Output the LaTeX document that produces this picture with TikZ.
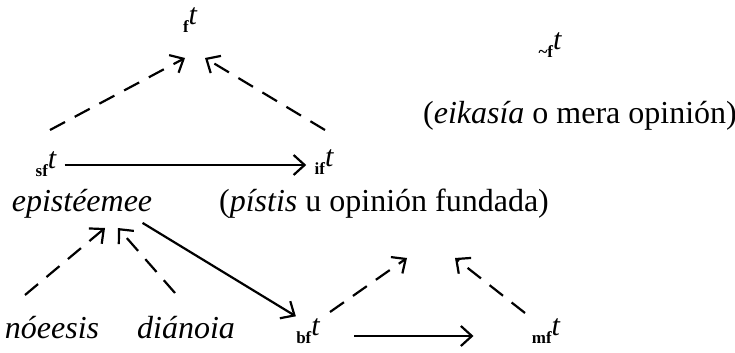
\documentclass[tikz,border=0pt]{standalone}
\usepackage{fontspec}
\setmainfont{Liberation Serif}
\usetikzlibrary{arrows.meta, positioning, calc}
\newcommand{\tlbl}[1]{{\fontsize{8.5}{9}\selectfont\bfseries #1}\raisebox{0.55ex}{\itshape t}}

\begin{document}
\begin{tikzpicture}[
        x=0.5pt, y=-0.5pt,
        txt/.style={inner sep=1pt, font=\fontsize{16}{18}\selectfont},
        sym/.style={inner sep=0pt, font=\fontsize{15}{17}\selectfont},
        line/.style={line width=1.1pt, -{Straight Barb[length=5.5pt, width=10pt, line width=1.1pt]}},
        dline/.style={line, dash pattern=on 8.5pt off 5.5pt}
    ]
    \useasboundingbox (0,0) rectangle (735,353);
    % upper triangle
    \node [sym] (f)   at (190,20)  {\tlbl{f}};
    \node [sym] (sf)  at (46,164)  {\tlbl{sf}};
    \node [sym] (if)  at (324,162) {\tlbl{if}};
    \node [txt] (epi) at (82,204)  {\itshape epistéemee};
    \node [txt] (pis) at (384,204) {(\textit{pístis} u opinión fundada)};
    % right side
    \node [sym] (tf)  at (550,45)  {\tlbl{\textasciitilde f}};
    \node [txt] (eik) at (580,116) {(\textit{eikasía} o mera opinión)};
    % lower part
    \node [txt] (noe) at (52,328)  {\itshape nóeesis};
    \node [txt] (dia) at (186,328) {\itshape diánoia};
    \node [sym] (bf)  at (308,331) {\tlbl{bf}};
    \node [sym] (mf)  at (546,331) {\tlbl{mf}};
    % free ends of the dashed arrows
    \coordinate (a1) at (50,130);   \coordinate (a2) at (185,58);
    \coordinate (b1) at (325,130);  \coordinate (b2) at (205,58);
    \coordinate (c1) at (25,295);   \coordinate (c2) at (105,228);
    \coordinate (d1) at (175,293);  \coordinate (d2) at (118,228);
    \coordinate (e1) at (330,312);  \coordinate (e2) at (407,258);
    \coordinate (g1) at (525,313);  \coordinate (g2) at (455,258);
    \draw[dline] (a1) -- (a2);
    \draw[dline] (b1) -- (b2);
    \draw[dline] (c1) -- (c2);
    \draw[dline] (d1) -- (d2);
    \draw[dline] (e1) -- (e2);
    \draw[dline] (g1) -- (g2);
    \draw[line] ($(sf.east)+(8,1)$) -- ($(if.west)+(-8,3)$);
    \draw[line] ($(epi.south east)+(-12,2)$) -- ($(bf.north west)+(0,-2)$);
    \draw[line] ($(bf.east)+(34,5)$) -- ($(mf.west)+(-58,5)$);
\end{tikzpicture}
\end{document}
